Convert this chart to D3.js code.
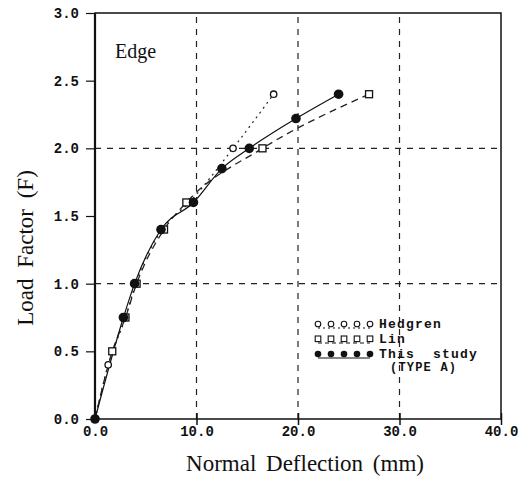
<!DOCTYPE html>
<html>
<head>
<style>
  body { margin: 0; background: #fff; }
  .tick text { font-family: "Liberation Mono", monospace; font-weight: bold; font-size: 14px; fill: #111; }
  .title { font-family: "Liberation Serif", "Times New Roman", serif; fill: #111; }
  .leg { font-family: "Liberation Mono", monospace; font-weight: bold; font-size: 13px; letter-spacing: 1.2px; fill: #111; }
</style>
</head>
<body>
<div id="chart"></div>
<script src="https://cdnjs.cloudflare.com/ajax/libs/d3/7.8.5/d3.min.js"></script>
<script>
// deflection (mm) / load factor pairs
var hedgrenX = [0, 1.3, 3.0, 4.0, 6.6, 9.3, 13.6, 17.6];
var hedgrenY = [0, 0.40, 0.75, 1.0, 1.4, 1.6, 2.0, 2.4];
var linX = [0, 1.7, 3.0, 4.1, 6.8, 9.0, 16.5, 27.0];
var linY = [0, 0.50, 0.75, 1.0, 1.4, 1.6, 2.0, 2.4];
var studyX = [0, 2.8, 3.9, 6.5, 9.7, 12.5, 15.2, 19.8, 24.0];
var studyY = [0, 0.75, 1.0, 1.4, 1.6, 1.85, 2.0, 2.22, 2.4];

var xTicks = [0, 10, 20, 30, 40];
var yTicks = [0, 0.5, 1.0, 1.5, 2.0, 2.5, 3.0];
var xGrid = [10, 20, 30];
var yGrid = [1.0, 2.0];

var width = 528, height = 479;
var svg = d3.select("#chart").append("svg")
    .attr("width", width)
    .attr("height", height);

var x = d3.scaleLinear().domain([0, 40]).range([95, 501]);
var y = d3.scaleLinear().domain([0, 3]).range([419, 13]);

// grid
svg.selectAll(".vg").data(xGrid).enter().append("line")
    .attr("x1", d => x(d)).attr("x2", d => x(d))
    .attr("y1", y(0)).attr("y2", y(3))
    .attr("stroke", "#222").attr("stroke-width", 1.2)
    .attr("stroke-dasharray", "6,6");
svg.selectAll(".hg").data(yGrid).enter().append("line")
    .attr("x1", x(0)).attr("x2", x(40))
    .attr("y1", d => y(d)).attr("y2", d => y(d))
    .attr("stroke", "#222").attr("stroke-width", 1.2)
    .attr("stroke-dasharray", "6,6");

// frame
svg.append("rect")
    .attr("x", x(0)).attr("y", y(3))
    .attr("width", x(40) - x(0)).attr("height", y(0) - y(3))
    .attr("fill", "none").attr("stroke", "#111").attr("stroke-width", 1.5);
svg.append("line").attr("x1", x(0)).attr("x2", x(0)).attr("y1", y(0)).attr("y2", y(3))
    .attr("stroke", "#111").attr("stroke-width", 2.2);

// axes
var gx = svg.append("g").attr("transform", "translate(0," + y(0) + ")")
    .call(d3.axisBottom(x).tickValues(xTicks).tickSize(6).tickPadding(1)
        .tickFormat(d3.format(".1f")));
gx.select(".domain").remove();
gx.selectAll(".tick line").attr("y1", -6).attr("stroke", "#111").attr("stroke-width", 1.5);
gx.selectAll(".tick").filter(d => d === 0).select("line").remove();

var gy = svg.append("g").attr("transform", "translate(" + x(0) + ",0)")
    .call(d3.axisLeft(y).tickValues(yTicks).tickSize(9).tickPadding(7)
        .tickFormat(d3.format(".1f")));
gy.select(".domain").remove();
gy.selectAll(".tick line").attr("stroke", "#111").attr("stroke-width", 1.2);

// titles
svg.append("text").attr("class", "title")
    .attr("x", 305).attr("y", 471)
    .attr("text-anchor", "middle").style("font-size", "23px")
    .style("word-spacing", "4px")
    .text("Normal Deflection (mm)");
svg.append("text").attr("class", "title")
    .attr("transform", "translate(33,248) rotate(-90)")
    .attr("text-anchor", "middle").style("font-size", "23px")
    .style("word-spacing", "5px")
    .text("Load Factor (F)");
svg.append("text").attr("class", "title")
    .attr("x", 115).attr("y", 58).style("font-size", "20px")
    .text("Edge");

// series
function pts(xs, ys) { return xs.map((v, i) => [v, ys[i]]); }
var hedgren = pts(hedgrenX, hedgrenY);
var lin = pts(linX, linY);
var study = pts(studyX, studyY);

var line = d3.line().x(d => x(d[0])).y(d => y(d[1])).curve(d3.curveMonotoneX);

svg.append("path").datum(hedgren).attr("d", line)
    .attr("fill", "none").attr("stroke", "#222").attr("stroke-width", 1.2)
    .attr("stroke-dasharray", "2,4");
svg.append("path").datum(lin).attr("d", line)
    .attr("fill", "none").attr("stroke", "#222").attr("stroke-width", 1.3)
    .attr("stroke-dasharray", "7,5");
svg.append("path").datum(study).attr("d", line)
    .attr("fill", "none").attr("stroke", "#111").attr("stroke-width", 1.2);

svg.selectAll(".hm").data(hedgren.slice(1)).enter().append("circle")
    .attr("cx", d => x(d[0])).attr("cy", d => y(d[1])).attr("r", 3.2)
    .attr("fill", "#fff").attr("stroke", "#111").attr("stroke-width", 1.3);
svg.selectAll(".lm").data(lin.slice(1)).enter().append("rect")
    .attr("x", d => x(d[0]) - 3.5).attr("y", d => y(d[1]) - 3.5)
    .attr("width", 7).attr("height", 7)
    .attr("fill", "#fff").attr("stroke", "#111").attr("stroke-width", 1.3);
svg.selectAll(".sm").data(study).enter().append("circle")
    .attr("cx", d => x(d[0])).attr("cy", d => y(d[1])).attr("r", 4.8)
    .attr("fill", "#111");

// legend
var legX = d3.range(5).map(i => 318 + i * 13);
var leg = [
  {name: "Hedgren", y: 326, kind: "c", dash: "2,3"},
  {name: "Lin", y: 341, kind: "s", dash: "4,3"},
  {name: "This  study", y: 356, kind: "f", dash: null}
];
leg.forEach(function(l) {
  svg.append("line").attr("x1", legX[0]).attr("x2", legX[4])
      .attr("y1", l.y + 2).attr("y2", l.y + 2)
      .attr("stroke", "#111").attr("stroke-width", 1)
      .attr("stroke-dasharray", l.dash);
  legX.forEach(function(px) {
    if (l.kind === "c") {
      svg.append("circle").attr("cx", px).attr("cy", l.y - 2).attr("r", 2.8)
          .attr("fill", "#fff").attr("stroke", "#111").attr("stroke-width", 1.1);
    } else if (l.kind === "s") {
      svg.append("rect").attr("x", px - 2.8).attr("y", l.y - 5).attr("width", 5.6).attr("height", 5.6)
          .attr("fill", "#fff").attr("stroke", "#111").attr("stroke-width", 1.1);
    } else {
      svg.append("circle").attr("cx", px).attr("cy", l.y - 2).attr("r", 3.3).attr("fill", "#111");
    }
  });
  svg.append("text").attr("class", "leg").attr("x", 379).attr("y", l.y + 2)
      .style("white-space", "pre").text(l.name);
});
svg.append("text").attr("class", "leg").attr("x", 390).attr("y", 371)
    .style("font-size", "12px").text("(TYPE A)");
</script>
</body>
</html>
